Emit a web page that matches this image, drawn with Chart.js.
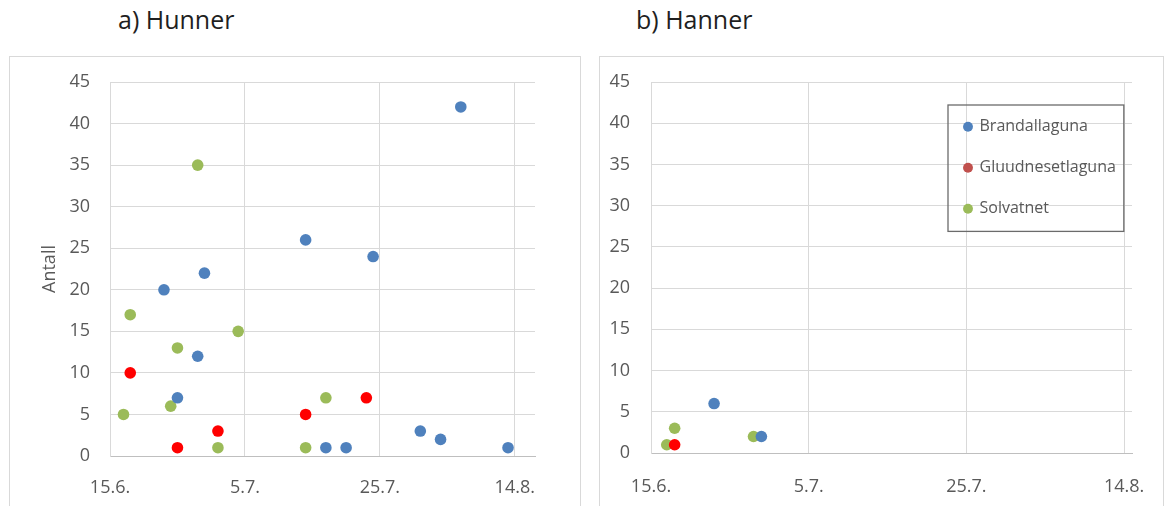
<!DOCTYPE html>
<html>
<head>
<meta charset="utf-8">
<script src="https://cdn.jsdelivr.net/npm/chart.js@4.4.0/dist/chart.umd.min.js"></script>
<style>
  html, body { margin: 0; padding: 0; background: #fff; }
  body { width: 1168px; height: 506px; position: relative; overflow: hidden; font-family: 'Open Sans', sans-serif; }
  .title { position: absolute; top: 7px; font-size: 25px; line-height: 25px; color: #1f1f1f; white-space: nowrap; }
  .panel { position: absolute; top: 56px; border: 1px solid #d9d9d9; }
  .panel canvas { display: block; }
</style>
</head>
<body>
<div class="title" style="left:118px">a) Hunner</div>
<div class="title" style="left:636px">b) Hanner</div>
<div class="panel" style="left:9px; width:570px; height:458px"><canvas id="hunnerChart"></canvas></div>
<div class="panel" style="left:599px; width:563px; height:458px"><canvas id="hannerChart"></canvas></div>

<script>
// ---- Data (x = days after 15 June) ----
const seriesNames = ['Brandallaguna', 'Gluudnesetlaguna', 'Solvatnet'];
const pointColors = ['#4f81bd', '#ff0000', '#9bbb59'];
const legendColors = ['#4f81bd', '#c0504d', '#9bbb59'];

const tickDays = [0, 20, 40, 60];
const tickLabels = ['15.6.', '5.7.', '25.7.', '14.8.'];

// a) Hunner
const brandalHunnerX = [8, 10, 13, 14, 29, 32, 35, 39, 46, 49, 52, 59];
const brandalHunnerY = [20, 7, 12, 22, 26, 1, 1, 24, 3, 2, 42, 1];
const gluudHunnerX = [3, 10, 16, 29, 38];
const gluudHunnerY = [10, 1, 3, 5, 7];
const solvHunnerX = [2, 3, 9, 10, 13, 16, 19, 29, 32];
const solvHunnerY = [5, 17, 6, 13, 35, 1, 15, 1, 7];

// b) Hanner
const brandalHannerX = [8, 14];
const brandalHannerY = [6, 2];
const gluudHannerX = [3];
const gluudHannerY = [1];
const solvHannerX = [2, 3, 13];
const solvHannerY = [1, 3, 2];

const toPoints = (xs, ys) => xs.map((x, i) => ({ x, y: ys[i] }));

const makeDatasets = (pairs) => pairs.map(([xs, ys], i) => ({
  label: seriesNames[i],
  data: toPoints(xs, ys),
  backgroundColor: pointColors[i],
  borderColor: pointColors[i],
  borderWidth: 0,
  pointRadius: 5.8, pointHoverRadius: 5.8,
}));

const tickFont = { family: 'Open Sans', size: 18 };
const textGray = '#595959';
const gridGray = '#d9d9d9';

// moves the legend into the plot and draws a frame round it
const legendFrame = {
  id: 'legendFrame',
  afterLayout(chart) {
    const lg = chart.legend;
    if (!lg) return;
    const w = lg.width, h = lg.height;
    lg.left = 339.5; lg.top = 36.7;
    lg.right = lg.left + w; lg.bottom = lg.top + h;
  },
  afterDraw(chart) {
    const boxes = chart.legend && chart.legend.legendHitBoxes;
    if (!boxes || !boxes.length) return;
    const l = Math.min(...boxes.map(b => b.left)) - 16.5;
    const r = Math.max(...boxes.map(b => b.left + b.width)) + 8;
    const t = boxes[0].top - 13.7;
    const btm = boxes[boxes.length - 1].top + boxes[boxes.length - 1].height + 14.7;
    const ctx = chart.ctx;
    ctx.save();
    ctx.strokeStyle = '#6b6b6b'; ctx.lineWidth = 1.3;
    ctx.strokeRect(l, t, r - l, btm - t);
    ctx.restore();
  }
};

// fixed axis size, and no extra room asked for overhanging labels
const fixSize = (prop, size) => s => {
  s[prop] = size;
  s.paddingTop = s.paddingBottom = s.paddingLeft = s.paddingRight = 0;
};

function makeOptions({ yWidth, yTitle, xMax, padRight, padBottom, xPad, yPad, showLegend }) {
  return {
    responsive: true, maintainAspectRatio: false, animation: false,
    layout: { padding: { left: 0, top: 25, right: padRight, bottom: padBottom } },
    plugins: {
      legend: {
        display: showLegend,
        position: 'chartArea', align: 'start',
        labels: {
          color: textGray, font: { family: 'Open Sans', size: 16 },
          usePointStyle: true, pointStyle: 'circle', boxWidth: 7, boxHeight: 7, padding: 25,
          generateLabels: chart => Chart.defaults.plugins.legend.labels.generateLabels(chart)
            .map((it, i) => ({ ...it, fillStyle: legendColors[i], strokeStyle: legendColors[i], lineWidth: 0 }))
        }
      },
      tooltip: { enabled: false }
    },
    scales: {
      x: {
        type: 'linear', min: 0, max: xMax,
        afterBuildTicks: s => { s.ticks = tickDays.map(v => ({ value: v })); },
        afterFit: fixSize('height', 40),
        grid: { color: gridGray, drawTicks: false },
        border: { color: '#bfbfbf', width: 1 },
        ticks: { color: textGray, font: tickFont, padding: xPad, maxRotation: 0,
          callback: v => tickLabels[tickDays.indexOf(v)] }
      },
      y: {
        min: 0, max: 45,
        afterFit: fixSize('width', yWidth),
        grid: { color: gridGray, drawTicks: false },
        border: { color: gridGray, width: 1 },
        ticks: { color: textGray, font: tickFont, padding: yPad, stepSize: 5 },
        title: { display: !!yTitle, text: yTitle, color: textGray,
          font: { family: 'Open Sans', size: 18 }, padding: { top: 29, bottom: 0 } }
      }
    }
  };
}

document.addEventListener('DOMContentLoaded', () => {
  new Chart(document.getElementById('hunnerChart'), {
    type: 'scatter',
    data: { datasets: makeDatasets([
      [brandalHunnerX, brandalHunnerY],
      [gluudHunnerX, gluudHunnerY],
      [solvHunnerX, solvHunnerY],
    ]) },
    options: makeOptions({ yWidth: 100, yTitle: 'Antall', xMax: 63, padRight: 45, padBottom: 19, xPad: 21, yPad: 20, showLegend: false })
  });

  new Chart(document.getElementById('hannerChart'), {
    type: 'scatter',
    data: { datasets: makeDatasets([
      [brandalHannerX, brandalHannerY],
      [gluudHannerX, gluudHannerY],
      [solvHannerX, solvHannerY],
    ]) },
    options: makeOptions({ yWidth: 51, yTitle: '', xMax: 61, padRight: 31, padBottom: 22, xPad: 23, yPad: 21, showLegend: true }),
    plugins: [legendFrame]
  });
});
</script>
</body>
</html>
